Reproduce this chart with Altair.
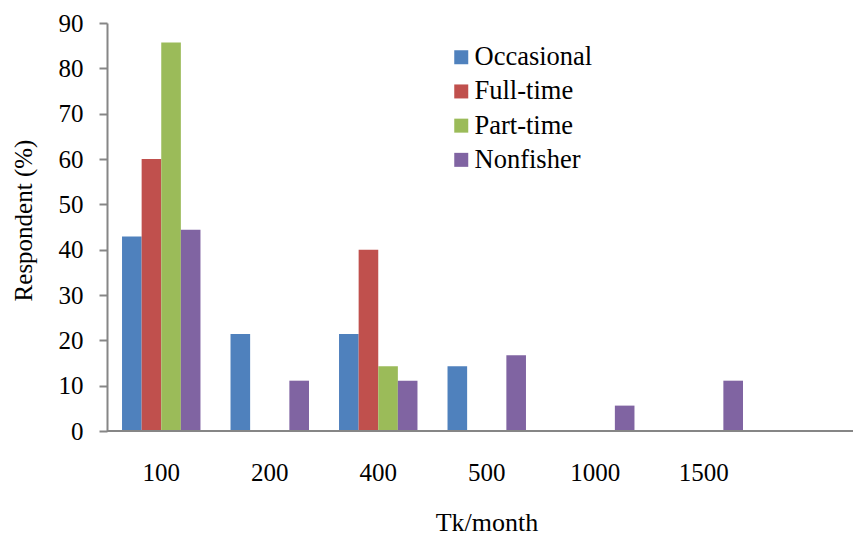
import altair as alt
import pandas as pd

categories = ["100", "200", "400", "500", "1000", "1500"]
series = ["Occasional", "Full-time", "Part-time", "Nonfisher"]
occasional = [42.9, 21.4, 21.4, 14.3, 0, 0]
full_time = [60.0, 0, 40.0, 0, 0, 0]
part_time = [85.7, 0, 14.3, 0, 0, 0]
nonfisher = [44.4, 11.1, 11.1, 16.7, 5.6, 11.1]
colors = ["#4F81BD", "#C0504D", "#9BBB59", "#8064A2"]
y_ticks = [0, 10, 20, 30, 40, 50, 60, 70, 80, 90]

rows = []
for s, vals in zip(series, [occasional, full_time, part_time, nonfisher]):
    for c, v in zip(categories, vals):
        rows.append({"income": c, "group": s, "pct": v})
df = pd.DataFrame(rows)

FONT = "Times New Roman, Liberation Serif, DejaVu Serif, serif"
AX = "#868686"
FS = 25

bars = alt.Chart(df).mark_bar().encode(
    x=alt.X(
        "income:N",
        sort=categories,
        scale=alt.Scale(domain=categories, paddingInner=0.277, paddingOuter=0.1385),
        axis=alt.Axis(
            title="Tk/month", labelAngle=0, domain=False, ticks=False, tickSize=0,
            labelFont=FONT, labelFontSize=FS, labelColor="black",
            labelBaseline="alphabetic", labelPadding=49,
            titleFont=FONT, titleFontSize=26, titleFontWeight="normal", titleColor="black",
            titleX=379.5, titleY=99, titleBaseline="alphabetic",
        ),
    ),
    xOffset=alt.XOffset(
        "group:N", sort=series,
        scale=alt.Scale(domain=series, paddingInner=0, paddingOuter=0),
    ),
    y=alt.Y(
        "pct:Q",
        scale=alt.Scale(domain=[0, 90], nice=False),
        axis=alt.Axis(
            title="Respondent (%)", values=y_ticks, grid=False,
            domainColor=AX, domainWidth=2, tickColor=AX, tickWidth=2, tickSize=8,
            labelFont=FONT, labelFontSize=FS, labelColor="black", labelPadding=16,
            titleFont=FONT, titleFontSize=FS, titleFontWeight="normal", titleColor="black",
            titleX=-76, titleY=197, titleBaseline="alphabetic", titleAngle=270,
        ),
    ),
    color=alt.Color(
        "group:N", sort=series,
        scale=alt.Scale(domain=series, range=colors),
        legend=alt.Legend(
            title=None, orient="none", legendX=341, legendY=21,
            symbolType="square", symbolSize=196, symbolStrokeWidth=0,
            labelFont=FONT, labelFontSize=26.5, labelColor="black",
            labelOffset=0, rowPadding=7.2, padding=0,
        ),
    ),
)

baseline = alt.Chart(df).mark_rule(color=AX, strokeWidth=2).encode(
    y=alt.datum(0), x=alt.value(0), x2=alt.value(746)
)

chart = alt.layer(bars, baseline).properties(
    width=651, height=408,
    padding={"left": 107, "top": 23, "right": 95, "bottom": 105},
    autosize=alt.AutoSizeParams(type="none"),
).configure_view(stroke=None)

chart.save("out.html", embed_options={"renderer": "svg", "actions": False})
